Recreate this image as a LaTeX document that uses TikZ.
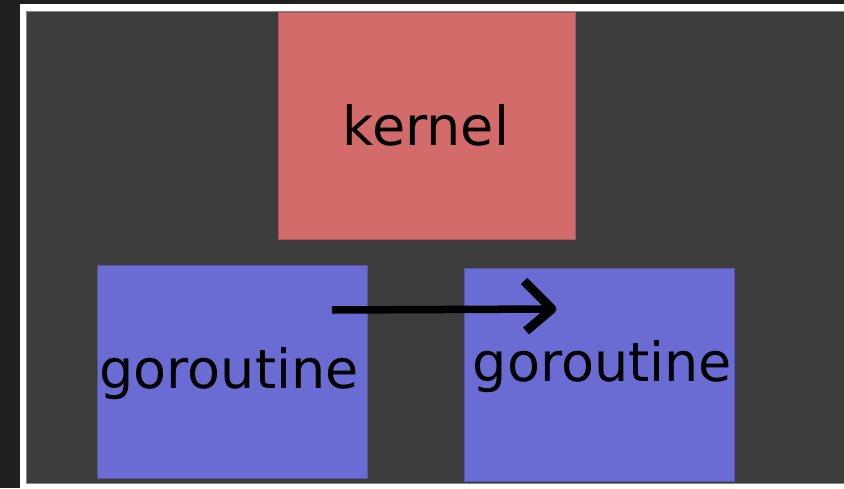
\documentclass[tikz,border=0pt]{standalone}
\usepackage{fontspec}
\setmainfont{DejaVu Sans}
\definecolor{outerbg}{HTML}{202020}
\definecolor{canvas}{HTML}{3C3C3C}
\definecolor{canvasedge}{HTML}{8A8A8A}
\definecolor{kernelfill}{HTML}{D46B6B}
\definecolor{kerneledge}{HTML}{A85858}
\definecolor{gofill}{HTML}{6B6BD4}
\definecolor{goedge}{HTML}{5656A8}
\tikzset{
  block/.style={rectangle, inner sep=0pt, line width=0.8pt},
  kernelbox/.style={block, fill=kernelfill, draw=kerneledge},
  gobox/.style={block, fill=gofill, draw=goedge},
  label text/.style={inner sep=0pt, anchor=base, text=black,
    font=\fontsize{54}{60}\selectfont},
  switch/.style={line width=7.5pt, draw=black}
}
\begin{document}
\begin{tikzpicture}[x=1pt, y=-1pt]
  \useasboundingbox (0,0) rectangle (844,488);
  % window background and frame
  \fill[outerbg] (0,0) rectangle (844,488);
  \fill[white] (20,4) rectangle (844,488);
  \fill[canvasedge] (26,11) rectangle (844,484);
  \fill[canvas] (27,12) rectangle (844,483);

  % blocks
  \node[kernelbox, minimum width=297pt, minimum height=227pt] (kernel) at (426.5,125.5) {};
  \node[gobox, minimum width=270pt, minimum height=213pt] (goA) at (232,371.5) {};
  \node[gobox, minimum width=270pt, minimum height=213pt] (goB) at (599,374.5) {};

  % labels
  \node[label text] (kernelText) at (426,145) {kernel};
  \node[label text] (goAText) at (229,388) {goroutine};
  \node[label text] (goBText) at (602.5,381) {goroutine};

  % hand-drawn switch arrow from one goroutine to the other
  \coordinate (from) at (332,310);
  \coordinate (to) at (552,309);
  \draw[switch] (from) -- (to);
  \draw[switch, line width=9pt, line join=round] (524,281) -- (to) -- (526,331);
\end{tikzpicture}
\end{document}
